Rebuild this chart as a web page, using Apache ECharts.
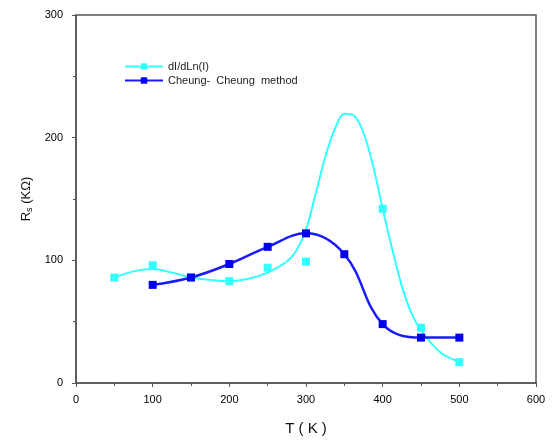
<!DOCTYPE html>
<html><head><meta charset="utf-8">
<script src="https://cdn.jsdelivr.net/npm/echarts@6/dist/echarts.min.js"></script>
<style>html,body{margin:0;padding:0;background:#fff}#c{width:553px;height:443px}</style>
</head><body><div id="c"></div>
<script>
// measured points
const tempsCyan = [50, 100, 150, 200, 250, 300, 400, 450, 500];
const valsCyan  = [86, 96, 86, 83, 94, 99, 142, 45, 17];
const tempsBlue = [100, 150, 200, 250, 300, 350, 400, 450, 500];
const valsBlue  = [80, 86, 97, 111, 122, 105, 48, 37, 37];
// fitted curve for dI/dLn(I)
const fitT = [50, 75, 100, 125, 150, 175, 200, 225, 250, 275, 287.5, 300, 312.5, 325, 337.5, 350, 362.5, 375, 387.5, 400, 412.5, 425, 437.5, 450, 475, 500];
const fitV = [86, 91, 93, 90, 86, 84, 83, 85, 90, 99, 108, 125, 154, 184, 207, 219.5, 218, 204, 177, 142, 109, 79, 57, 43, 25, 17];
const xTicks = [0, 100, 200, 300, 400, 500, 600];
const yTicks = [0, 100, 200, 300];

const zip = (a, b) => a.map((v, i) => [v, b[i]]);
const chart = echarts.init(document.getElementById('c'));
const axisCol = '#555';
const font = 'Liberation Sans, Arial, sans-serif';
chart.setOption({
  animation: false,
  grid: {left: 76, right: 17, top: 15, bottom: 60, show: true, borderColor: axisCol, borderWidth: 1.5},
  legend: {
    left: 119, top: 56, orient: 'vertical', itemGap: 3, itemWidth: 38, itemHeight: 8,
    textStyle: {fontFamily: font, fontSize: 11, color: '#222'},
    data: [
      {name: 'dI/dLn(I)', lineStyle: {opacity: 1, width: 2, color: '#33ffff'}},
      {name: 'Cheung-  Cheung  method'}
    ]
  },
  xAxis: {
    type: 'value', min: xTicks[0], max: xTicks[xTicks.length - 1], interval: 100,
    name: 'T ( K )', nameLocation: 'middle', nameGap: 38,
    nameTextStyle: {fontFamily: font, fontSize: 15, color: '#111'},
    axisLine: {lineStyle: {color: axisCol, width: 1.5}},
    axisTick: {length: 4, lineStyle: {color: axisCol}},
    minorTick: {show: true, splitNumber: 2, length: 3, lineStyle: {color: axisCol}},
    splitLine: {show: false},
    axisLabel: {fontFamily: font, fontSize: 11, color: '#000', margin: 11}
  },
  yAxis: {
    type: 'value', min: yTicks[0], max: yTicks[yTicks.length - 1], interval: 100,
    name: '{a|R}{s|s}{a| (KΩ)}', nameLocation: 'middle', nameGap: 40, nameRotate: 90,
    nameTextStyle: {rich: {a: {fontFamily: font, fontSize: 13, color: '#111'}, s: {fontFamily: font, fontSize: 9, color: '#111', verticalAlign: 'bottom', padding: [6, 0, 0, 0]}}},
    axisLine: {lineStyle: {color: axisCol, width: 1.5}},
    axisTick: {length: 4, lineStyle: {color: axisCol}},
    minorTick: {show: true, splitNumber: 2, length: 3, lineStyle: {color: axisCol}},
    splitLine: {show: false},
    axisLabel: {fontFamily: font, fontSize: 11, color: '#000', margin: 13}
  },
  series: [
    {
      name: 'fit', type: 'line', data: zip(fitT, fitV), smooth: 0.33, showSymbol: false,
      lineStyle: {color: '#33ffff', width: 2}, itemStyle: {color: '#33ffff'}, z: 2
    },
    {
      name: 'dI/dLn(I)', type: 'line', data: zip(tempsCyan, valsCyan), symbol: 'rect', symbolSize: 8,
      lineStyle: {opacity: 0, width: 2, color: '#33ffff'}, itemStyle: {color: '#33ffff'}, z: 3
    },
    {
      name: 'Cheung-  Cheung  method', type: 'line', data: zip(tempsBlue, valsBlue), smooth: 0.4,
      symbol: 'rect', symbolSize: 8,
      lineStyle: {color: '#1a1aff', width: 2.5}, itemStyle: {color: '#0000ee'}, z: 4
    }
  ]
});
</script></body></html>
